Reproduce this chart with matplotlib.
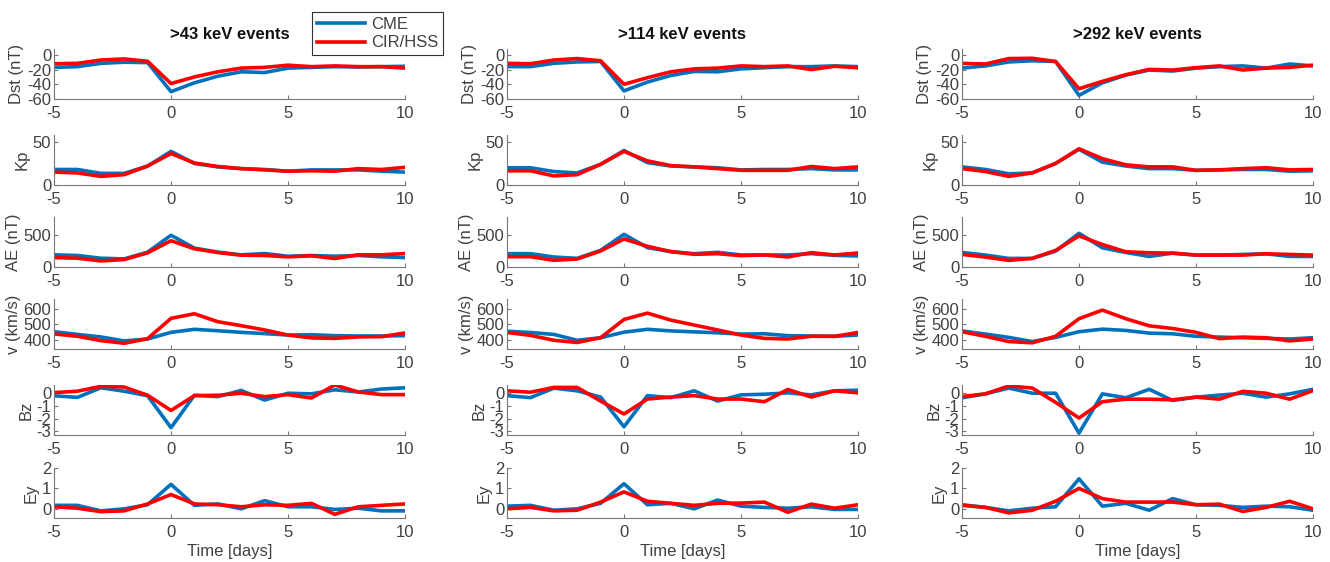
import matplotlib
matplotlib.use("Agg")
import matplotlib.pyplot as plt
import numpy as np

plt.rcParams['font.family'] = ['Liberation Sans', 'DejaVu Sans']
plt.rcParams['axes.unicode_minus'] = False

days = np.arange(-5, 11)

titles = ['>43 keV events', '>114 keV events', '>292 keV events']
ylabels = ['Dst (nT)', 'Kp', 'AE (nT)', 'v (km/s)', 'Bz', 'Ey']

# >43 keV
dst_cme_43 = [-17, -16, -11.5, -10, -10.5, -50, -38, -29, -23, -24, -18, -17, -16, -16.5, -16, -15.5]
dst_cir_43 = [-12, -11.5, -7, -5.5, -8.7, -39, -30, -23, -18, -17, -14, -16, -15, -16, -16, -18]
kp_cme_43 = [18, 18, 13.5, 13.5, 22, 39, 25, 21, 19, 18, 16, 17.5, 17.5, 17.5, 16, 15]
kp_cir_43 = [15, 14, 10, 12, 22, 36.5, 25.5, 21.5, 19, 17.5, 16, 16.5, 16, 19, 18, 20.5]
ae_cme_43 = [190, 180, 137, 126, 232, 495, 295, 232, 190, 210, 168, 180, 168, 180, 158, 147]
ae_cir_43 = [147, 137, 95, 116, 221, 410, 284, 226, 184, 180, 158, 174, 132, 190, 190, 210]
v_cme_43 = [454, 437, 421, 396, 408, 450, 469, 460, 450, 442, 433, 435, 429, 427, 427, 429]
v_cir_43 = [440, 425, 398, 381, 410, 538, 567, 517, 492, 465, 433, 415, 412, 421, 423, 446]
bz_cme_43 = [-0.2, -0.33, 0.43, 0.16, -0.2, -2.72, -0.16, -0.27, 0.22, -0.54, 0, -0.05, 0.27, 0.1, 0.33, 0.43]
bz_cir_43 = [0.05, 0.16, 0.54, 0.49, -0.16, -1.36, -0.19, -0.16, 0, -0.27, -0.11, -0.38, 0.65, 0.1, -0.11, -0.11]
ey_cme_43 = [0.17, 0.17, -0.1, 0, 0.2, 1.2, 0.17, 0.24, 0, 0.4, 0.1, 0.1, -0.03, 0.03, -0.1, -0.1]
ey_cir_43 = [0.1, 0.03, -0.14, -0.1, 0.24, 0.7, 0.24, 0.2, 0.1, 0.2, 0.17, 0.27, -0.27, 0.1, 0.17, 0.24]

# >114 keV
dst_cme_114 = [-16, -16, -11.5, -9.6, -9, -49, -37, -28, -22.5, -23, -19, -17.5, -16, -16, -15, -16]
dst_cir_114 = [-11.5, -12, -7, -5, -8, -40, -31, -23, -19, -18, -15, -16, -15, -20, -15.5, -17.5]
kp_cme_114 = [20, 20, 15.6, 14, 24, 40, 26, 22, 21, 20, 17.5, 18, 18, 19, 17.5, 17.5]
kp_cir_114 = [16.5, 16.5, 10.5, 12, 24, 39, 28, 22.5, 21, 19, 17, 17, 17, 21.5, 19, 21]
ae_cme_114 = [208, 208, 156, 135, 260, 510, 302, 240, 208, 229, 188, 188, 188, 208, 182, 172]
ae_cir_114 = [161, 161, 104, 125, 250, 437, 323, 240, 198, 208, 177, 188, 156, 224, 188, 219]
v_cme_114 = [457, 449, 437, 400, 416, 451, 469, 459, 453, 447, 439, 441, 429, 427, 425, 433]
v_cir_114 = [449, 431, 400, 386, 416, 531, 571, 527, 496, 465, 433, 412, 408, 425, 425, 449]
bz_cme_114 = [-0.19, -0.35, 0.4, 0.19, -0.3, -2.65, -0.19, -0.35, 0.19, -0.62, -0.13, -0.08, 0.03, -0.13, 0.19, 0.24]
bz_cir_114 = [0.19, 0.08, 0.46, 0.46, -0.62, -1.64, -0.46, -0.3, -0.19, -0.46, -0.46, -0.67, 0.3, -0.3, 0.19, 0.03]
ey_cme_114 = [0.13, 0.17, -0.07, 0, 0.27, 1.23, 0.2, 0.27, 0, 0.43, 0.13, 0.07, 0.03, 0.1, -0.03, -0.03]
ey_cir_114 = [0, 0.07, -0.1, -0.07, 0.33, 0.83, 0.37, 0.27, 0.17, 0.27, 0.28, 0.33, -0.17, 0.23, 0.03, 0.2]

# >292 keV
dst_cme_292 = [-18, -15, -9.6, -8, -9, -55, -38, -27.5, -20.6, -22, -18, -16, -15, -18, -12.4, -15]
dst_cir_292 = [-11.5, -12.4, -5, -4.6, -9, -46, -36, -27, -19.7, -20.6, -17.4, -15, -20.6, -18, -17, -14]
kp_cme_292 = [21, 18, 13, 14, 25, 41.4, 26.5, 22, 19, 19, 17, 17.5, 18, 18, 16, 16.5]
kp_cir_292 = [19, 15.6, 10, 14, 25, 42, 30.5, 23.4, 21, 21, 17, 17.6, 19, 20, 17.6, 18]
ae_cme_292 = [227, 186, 134, 134, 247, 526, 299, 227, 165, 216, 186, 186, 196, 206, 165, 165]
ae_cir_292 = [196, 155, 103, 134, 258, 485, 351, 237, 222, 216, 186, 186, 186, 206, 196, 186]
v_cme_292 = [459, 439, 418, 392, 418, 454, 470, 462, 445, 441, 425, 420, 416, 412, 408, 416]
v_cir_292 = [454, 425, 392, 384, 425, 536, 590, 536, 491, 474, 450, 410, 420, 416, 396, 408]
bz_cme_292 = [-0.36, -0.05, 0.41, 0, 0, -3.15, -0.05, -0.36, 0.31, -0.57, -0.31, -0.15, 0, -0.31, -0.05, 0.31]
bz_cir_292 = [-0.26, -0.05, 0.57, 0.41, -0.72, -1.96, -0.67, -0.47, -0.47, -0.52, -0.31, -0.47, 0.15, 0, -0.47, 0.21]
ey_cme_292 = [0.2, 0.07, -0.1, 0.03, 0.1, 1.47, 0.13, 0.27, -0.07, 0.5, 0.2, 0.17, 0.07, 0.13, 0.1, -0.07]
ey_cir_292 = [0.17, 0.07, -0.2, -0.07, 0.37, 1.0, 0.5, 0.33, 0.33, 0.33, 0.2, 0.23, -0.13, 0.07, 0.37, 0]

cme = [
    [dst_cme_43, kp_cme_43, ae_cme_43, v_cme_43, bz_cme_43, ey_cme_43],
    [dst_cme_114, kp_cme_114, ae_cme_114, v_cme_114, bz_cme_114, ey_cme_114],
    [dst_cme_292, kp_cme_292, ae_cme_292, v_cme_292, bz_cme_292, ey_cme_292],
]
cir = [
    [dst_cir_43, kp_cir_43, ae_cir_43, v_cir_43, bz_cir_43, ey_cir_43],
    [dst_cir_114, kp_cir_114, ae_cir_114, v_cir_114, bz_cir_114, ey_cir_114],
    [dst_cir_292, kp_cir_292, ae_cir_292, v_cir_292, bz_cir_292, ey_cir_292],
]

ylims = [(-60, 8), (0, 58), (0, 780), (345, 660), (-3.3, 0.65), (-0.45, 2)]
yticks = [[-60, -40, -20, 0], [0, 50], [0, 500], [400, 500, 600], [-3, -2, -1, 0], [0, 1, 2]]

W, H = 1330, 562
fig = plt.figure(figsize=(13.3, 5.62), dpi=100)

col_left = [54, 507, 962]
row_top = [49, 135, 217, 299, 385, 468]
ax_w, ax_h = 351, 50
txt = '#404040'
blue = '#0072BD'
red = '#FF0000'

for c in range(3):
    for r in range(6):
        ax = fig.add_axes([col_left[c] / W, 1 - (row_top[r] + ax_h) / H, ax_w / W, ax_h / H])
        l1, = ax.plot(days, cme[c][r], color=blue, lw=2.6, label='CME')
        l2, = ax.plot(days, cir[c][r], color=red, lw=2.6, label='CIR/HSS')
        ax.set_xlim(-5, 10)
        ax.set_ylim(*ylims[r])
        ax.set_xticks([-5, 0, 5, 10])
        ax.set_yticks(yticks[r])
        ax.spines['top'].set_visible(False)
        ax.spines['right'].set_visible(False)
        for s in ['left', 'bottom']:
            ax.spines[s].set_color('#777777')
            ax.spines[s].set_linewidth(0.8)
        ax.tick_params(direction='in', length=3, width=0.8, colors='#777777',
                       labelcolor=txt, labelsize=12, pad=2)
        ax.tick_params(axis='x', pad=5)
        ax.set_ylabel(ylabels[r], fontsize=12, color=txt, labelpad=2)
        if r == 0:
            ax.set_title(titles[c], fontsize=12, fontweight='bold', color='#111111', pad=7)
        if r == 5:
            ax.set_xlabel('Time [days]', fontsize=12, color=txt, labelpad=3)

leg = fig.legend([l1, l2], ['CME', 'CIR/HSS'], loc='upper left',
                 bbox_to_anchor=(312 / W, 1 - 12 / H), borderaxespad=0, fontsize=12,
                 fancybox=False, framealpha=1, edgecolor='#333333',
                 handlelength=2.9, borderpad=0.3, labelspacing=0.2, handletextpad=0.35)
leg.get_frame().set_linewidth(0.8)
for t in leg.get_texts():
    t.set_color(txt)

fig.savefig('out.png', dpi=100)
